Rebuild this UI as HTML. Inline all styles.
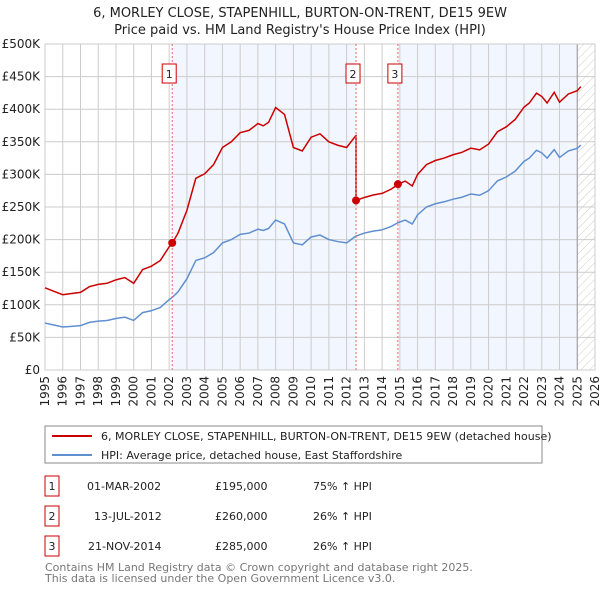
<!DOCTYPE html>
<html><head><meta charset="utf-8"><style>
body{margin:0;width:600px;height:590px;background:#fff;font-family:"Liberation Sans","DejaVu Sans",sans-serif;overflow:hidden}
svg text{font-family:"DejaVu Sans","Liberation Sans",sans-serif}
</style></head><body>
<svg id="chart" width="600" height="590">
<defs><pattern id="hatch" width="6" height="6" patternUnits="userSpaceOnUse" patternTransform="rotate(45)"><line x1="0" y1="0" x2="0" y2="6" stroke="#ccc" stroke-width="1"/></pattern></defs>
<text x="300" y="17" text-anchor="middle" font-size="13" fill="#222">6, MORLEY CLOSE, STAPENHILL, BURTON-ON-TRENT, DE15 9EW</text>
<text x="300" y="34" text-anchor="middle" font-size="13" fill="#222">Price paid vs. HM Land Registry's House Price Index (HPI)</text>
<g id="bg"></g><g id="grid"></g><g id="series"></g><g id="marks"></g><g id="axes"></g>
<rect x="45" y="426" width="497" height="37" fill="#fff" stroke="#888"/>
<line x1="52" y1="436" x2="92" y2="436" stroke="#cc0000" stroke-width="2"/>
<text x="101" y="440" font-size="11" fill="#222">6, MORLEY CLOSE, STAPENHILL, BURTON-ON-TRENT, DE15 9EW (detached house)</text>
<line x1="52" y1="455" x2="92" y2="455" stroke="#5f8fd0" stroke-width="2"/>
<text x="101" y="459" font-size="11" fill="#222">HPI: Average price, detached house, East Staffordshire</text>
<g font-size="11" fill="#222">
<rect x="45" y="476" width="14" height="20" fill="#fff" stroke="#cc0000"/><text x="52" y="490" text-anchor="middle">1</text>
<text x="87" y="490">01-MAR-2002</text><text x="215" y="490">£195,000</text><text x="313" y="490">75% ↑ HPI</text>
<rect x="45" y="506" width="14" height="20" fill="#fff" stroke="#cc0000"/><text x="52" y="520" text-anchor="middle">2</text>
<text x="94" y="520">13-JUL-2012</text><text x="215" y="520">£260,000</text><text x="313" y="520">26% ↑ HPI</text>
<rect x="45" y="536" width="14" height="20" fill="#fff" stroke="#cc0000"/><text x="52" y="550" text-anchor="middle">3</text>
<text x="88" y="550">21-NOV-2014</text><text x="215" y="550">£285,000</text><text x="313" y="550">26% ↑ HPI</text>
</g>
<text x="45" y="571" font-size="11" fill="#777">Contains HM Land Registry data © Crown copyright and database right 2025.</text>
<text x="45" y="582" font-size="11" fill="#777">This data is licensed under the Open Government Licence v3.0.</text>
</svg>
<script>
const hpiYears=[1995,1995.5,1996,1996.5,1997,1997.5,1998,1998.5,1999,1999.5,2000,2000.5,2001,2001.5,2002,2002.2,2002.5,2003,2003.5,2004,2004.5,2005,2005.5,2006,2006.5,2007,2007.3,2007.6,2008,2008.5,2009,2009.5,2010,2010.5,2011,2011.5,2012,2012.5,2013,2013.5,2014,2014.5,2014.9,2015.3,2015.7,2016,2016.5,2017,2017.5,2018,2018.5,2019,2019.5,2020,2020.5,2021,2021.5,2022,2022.3,2022.7,2023,2023.3,2023.7,2024,2024.5,2025,2025.2];
const hpiValues=[72,69,66,67,68,73,75,76,79,81,76,88,91,96,108,112,120,140,168,172,180,195,200,208,210,216,214,217,230,224,195,192,204,207,200,197,195,205,210,213,215,220,226,230,224,238,250,255,258,262,265,270,268,275,290,296,305,320,325,337,333,325,338,326,336,340,345];
const saleDates=[2002.17,2012.53,2014.89];
const salePrices=[195,260,285];
const priceRatios=[1.75,1.26,1.26];
const yTicks=[0,50,100,150,200,250,300,350,400,450,500];
const yTickLabels=["£0","£50K","£100K","£150K","£200K","£250K","£300K","£350K","£400K","£450K","£500K"];
const xTicks=[1995,1996,1997,1998,1999,2000,2001,2002,2003,2004,2005,2006,2007,2008,2009,2010,2011,2012,2013,2014,2015,2016,2017,2018,2019,2020,2021,2022,2023,2024,2025,2026];
const X=y=>45+(y-1995)*550/31, Y=v=>370-v*326/500;
const NS="http://www.w3.org/2000/svg";
function mk(p,t,a){const e=document.createElementNS(NS,t);for(const k in a)e.setAttribute(k,a[k]);document.getElementById(p).appendChild(e);return e;}
let e;
e=mk('bg','rect',{x:45,y:44,width:550,height:326,fill:'#fff'});

e=mk('bg','rect',{x:X(saleDates[0]),y:44,width:X(saleDates[1])-X(saleDates[0]),height:326,fill:'#f2f6fe'});

e=mk('bg','rect',{x:X(saleDates[2]),y:44,width:X(2025.0)-X(saleDates[2]),height:326,fill:'#f2f6fe'});

e=mk('bg','rect',{x:X(2025.0),y:44,width:595-X(2025.0),height:326,fill:'url(#hatch)'});

yTicks.forEach((v,i)=>{
 e=mk('grid','line',{x1:45,x2:595,y1:Y(v),y2:Y(v),stroke:'#ccc'});
 
 e=mk('axes','text',{x:40,y:Y(v)+4,'text-anchor':'end','font-size':12,fill:'#222'});e.textContent=yTickLabels[i];
 
});
xTicks.forEach(t=>{
 e=mk('grid','line',{x1:X(t),x2:X(t),y1:44,y2:370,stroke:'#ccc'});
 
 e=mk('axes','text',{x:0,y:0,'text-anchor':'end','font-size':12,fill:'#222',transform:`translate(${X(t)+4},376) rotate(-90)`});e.textContent=t;
 
});
e=mk('grid','line',{x1:X(2025.0),x2:X(2025.0),y1:44,y2:370,stroke:'#999'});

e=mk('grid','rect',{x:45,y:44,width:550,height:326,fill:'none',stroke:'#ccc'});

function ratioAt(y){let r=priceRatios[0];for(let i=0;i<saleDates.length;i++)if(y>=saleDates[i])r=priceRatios[i];return r;}
function hpiAt(y){for(let i=1;i<hpiYears.length;i++)if(y<=hpiYears[i]){const f=(y-hpiYears[i-1])/(hpiYears[i]-hpiYears[i-1]);return hpiValues[i-1]+f*(hpiValues[i]-hpiValues[i-1]);}return hpiValues[hpiValues.length-1];}
e=mk('series','polyline',{points:hpiYears.map((y,i)=>X(y)+','+Y(hpiValues[i])).join(' '),fill:'none',stroke:'#5f8fd0','stroke-width':1.5});

let pts=[];
hpiYears.forEach((y,i)=>{
 saleDates.forEach((s,k)=>{const prev=i>0?hpiYears[i-1]:-1;if(s>prev&&s<=y){if(k>0)pts.push([s,hpiAt(s)*priceRatios[k-1]]);pts.push([s,salePrices[k]]);}});
 pts.push([y,hpiValues[i]*ratioAt(y)]);
});
e=mk('series','polyline',{points:pts.map(p=>X(p[0])+','+Y(p[1])).join(' '),fill:'none',stroke:'#cc0000','stroke-width':1.5});

saleDates.forEach((s,k)=>{
 e=mk('marks','line',{x1:X(s),x2:X(s),y1:44,y2:370,stroke:'#e66','stroke-dasharray':'2,2'});
 
 e=mk('marks','circle',{cx:X(s),cy:Y(salePrices[k]),r:4,fill:'#cc0000'});
 
 e=mk('marks','rect',{x:X(s)-10,y:64,width:14,height:19,fill:'#fff',stroke:'#cc0000'});
 
 e=mk('marks','text',{x:X(s)-3,y:78,'text-anchor':'middle','font-size':11,fill:'#222'});e.textContent=k+1;
 
});
</script>
</body></html>
